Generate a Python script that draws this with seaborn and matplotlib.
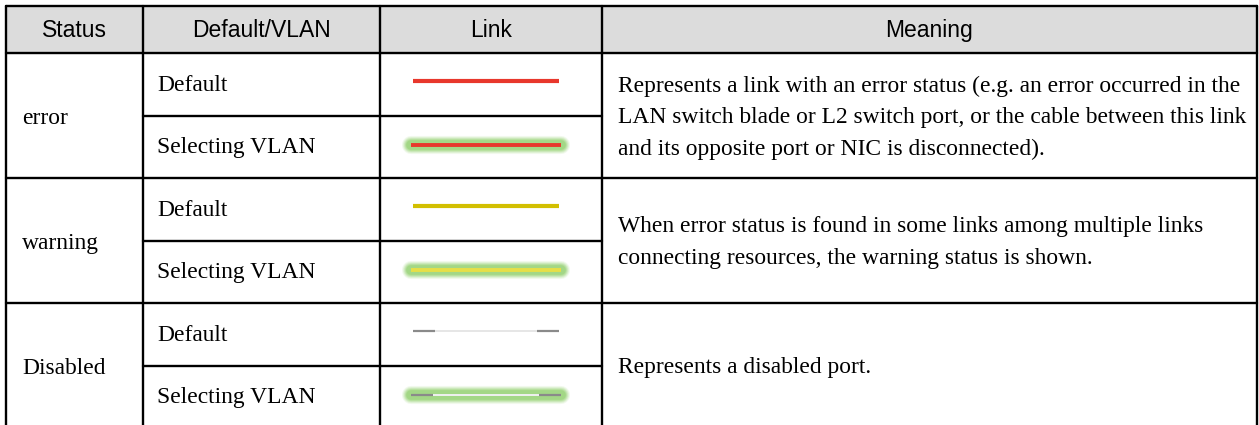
import matplotlib
matplotlib.use("Agg")
import matplotlib.pyplot as plt
import pandas as pd
import seaborn as sns

# table content
headers = ["Status", "Default/VLAN", "Link", "Meaning"]
statuses = ["error", "warning", "Disabled"]
variants = ["Default", "Selecting VLAN"]
meanings = [
    ["Represents a link with an error status (e.g. an error occurred in the",
     "LAN switch blade or L2 switch port, or the cable between this link",
     "and its opposite port or NIC is disconnected)."],
    ["When error status is found in some links among multiple links",
     "connecting resources, the warning status is shown."],
    ["Represents a disabled port."],
]
link_colors = ["#e8372c", "#d2bf00", "#dcdcdc"]
vlan_colors = ["#e8372c", "#e6df48", "#f0f0f0"]
disabled_ends = "#8a8a8a"

W, H = 1259, 425
col_x = [6, 143, 380, 602, 1257]
head_top, head_bot = 6, 53
row_h = 62.5

sns.set_theme(style="white")
plt.rcParams["font.family"] = ["Liberation Serif", "DejaVu Serif"]

fig = plt.figure(figsize=(W / 100, H / 100), dpi=100)
ax = fig.add_axes([0, 0, 1, 1])
ax.set_xlim(0, W)
ax.set_ylim(H, 0)
ax.axis("off")

body_fs = 16.9
lw = 1.7
# header band
ax.fill_between([col_x[0], col_x[-1]], head_top, head_bot, color="#dcdcdc", zorder=0)
for i, h in enumerate(headers):
    cx = (col_x[i] + col_x[i + 1]) / 2
    ax.text(cx, (head_top + head_bot) / 2 + 1, h, ha="center", va="center",
            fontsize=16.5, family="Liberation Sans", color="black")

# grid lines
ax.plot([col_x[0], col_x[-1]], [head_top, head_top], color="black", lw=lw)
ax.plot([col_x[0], col_x[-1]], [head_bot, head_bot], color="black", lw=lw)
for x in col_x:
    ax.plot([x, x], [head_top, H + 5], color="black", lw=lw)

link_x0, link_x1 = 413, 559
glow_x0, glow_x1 = 407, 565
for g, status in enumerate(statuses):
    top = head_bot + g * 2 * row_h
    mid = top + row_h
    bot = top + 2 * row_h
    if g > 0:
        ax.plot([col_x[0], col_x[-1]], [top, top], color="black", lw=lw)
    ax.plot([col_x[1], col_x[3]], [mid, mid], color="black", lw=lw)

    ax.text(22, (top + bot) / 2 + 3, status, ha="left", va="center",
            fontsize=body_fs, color="black")
    for v, name in enumerate(variants):
        ax.text(157, top + row_h * v + row_h / 2 + 1, name, ha="left", va="center",
                fontsize=body_fs, color="black")

    # meaning text lines
    lines = meanings[g]
    n = len(lines)
    center = (top + bot) / 2 + 2
    for k, line in enumerate(lines):
        y = center + (k - (n - 1) / 2) * 31.5
        ax.text(618, y, line, ha="left", va="center", fontsize=body_fs, color="black")

    # link samples
    y_def = top + row_h / 2 - 3
    y_vlan = mid + row_h / 2 - 2
    seg = pd.DataFrame({"x": [link_x0, link_x1], "y": [y_def, y_def]})
    if status == "Disabled":
        sns.lineplot(data=seg, x="x", y="y", ax=ax, color="#e2e2e2", lw=1.2,
                     solid_capstyle="butt")
        for a, b in [(link_x0, link_x0 + 22), (link_x1 - 22, link_x1)]:
            sns.lineplot(x=[a, b], y=[y_def, y_def], ax=ax, color=disabled_ends,
                         lw=1.6, solid_capstyle="butt")
    else:
        sns.lineplot(data=seg, x="x", y="y", ax=ax, color=link_colors[g], lw=3.0,
                     solid_capstyle="butt")

    # soft green glow behind the VLAN sample
    for width, alpha in [(13, 0.12), (11.5, 0.18), (10, 0.25), (8.5, 0.35), (7, 0.45)]:
        sns.lineplot(x=[glow_x0 + 4, glow_x1 - 4], y=[y_vlan, y_vlan], ax=ax,
                     color="#8fcf6a", lw=width, alpha=alpha, solid_capstyle="round")
    if status == "Disabled":
        sns.lineplot(x=[link_x0 - 2, link_x1 + 2], y=[y_vlan, y_vlan], ax=ax,
                     color=vlan_colors[g], lw=1.4, solid_capstyle="butt")
        for a, b in [(link_x0 - 2, link_x0 + 20), (link_x1 - 20, link_x1 + 2)]:
            sns.lineplot(x=[a, b], y=[y_vlan, y_vlan], ax=ax, color=disabled_ends,
                         lw=1.6, solid_capstyle="butt")
    else:
        sns.lineplot(x=[link_x0 - 2, link_x1 + 2], y=[y_vlan, y_vlan], ax=ax,
                     color=vlan_colors[g], lw=2.8, solid_capstyle="butt")

ax.set_xlim(0, W)
ax.set_ylim(H, 0)
ax.axis("off")
fig.savefig("out.png", dpi=100)
